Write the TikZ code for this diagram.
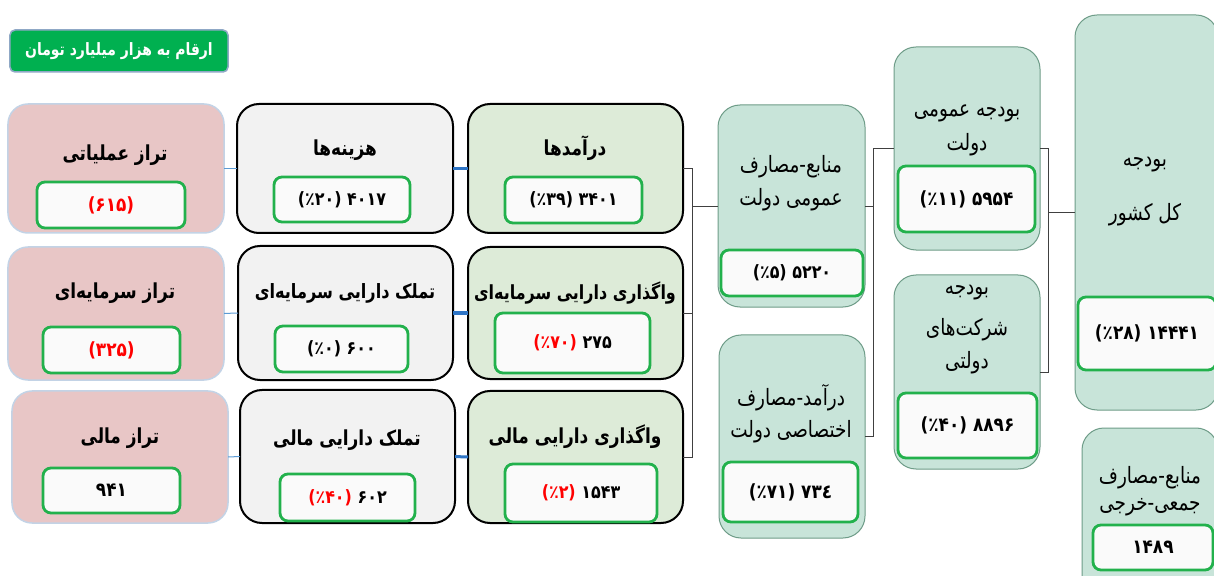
\documentclass[tikz,border=0pt]{standalone}
\usepackage{fontspec}
\usepackage{graphicx}
\TeXXeTstate=1
\newfontfamily\fa[Script=Arabic]{DejaVu Sans}
\definecolor{pinkF}{HTML}{E8C6C6}
\definecolor{pinkD}{HTML}{C3D3E6}
\definecolor{grayF}{HTML}{F2F2F2}
\definecolor{greenF}{HTML}{DDEBD8}
\definecolor{tealF}{HTML}{C8E4D9}
\definecolor{tealD}{HTML}{6E9C88}
\definecolor{valF}{HTML}{FAFAFA}
\definecolor{valD}{HTML}{22B14C}
\definecolor{titF}{HTML}{00B050}
\definecolor{titD}{HTML}{8FA8C6}
\definecolor{lblue}{HTML}{5B9BD5}
\definecolor{dblue}{HTML}{2E75C6}
\definecolor{rd}{HTML}{FF0000}
\tikzset{
  base/.style={inner sep=0pt, outer sep=0pt},
  pinkbox/.style={base, rounded corners=20bp, fill=pinkF, draw=pinkD, line width=1.5bp},
  graybox/.style={base, rounded corners=22bp, fill=grayF, draw=black, line width=2bp},
  greenbox/.style={base, rounded corners=22bp, fill=greenF, draw=black, line width=2bp},
  tealbox/.style={base, rounded corners=22bp, fill=tealF, draw=tealD, line width=1bp},
  valbox/.style={base, rounded corners=8bp, fill=valF, draw=valD, line width=2.8bp,
     font=\fa\bfseries\fontsize{16}{18}\selectfont},
  bigval/.style={font=\fa\bfseries\fontsize{17}{19}\selectfont},
  titbox/.style={base, rounded corners=5bp, fill=titF, draw=titD, line width=1.5bp,
     text=white, font=\fa\bfseries\fontsize{14}{17}\selectfont},
  ttlb/.style={base, font=\fa\bfseries\fontsize{17}{20}\selectfont},
  ttlr/.style={base, font=\fa\fontsize{18.5}{22}\selectfont},
  conn/.style={line width=0.8bp, draw=black!75},
  lconn/.style={line width=1bp, draw=lblue},
  dconn/.style={line width=3bp, draw=dblue},
}
\newcommand{\T}[1]{\scalebox{1}[1.22]{\beginR #1\endR}}
\newcommand{\V}[1]{\scalebox{1}[1.15]{\beginR #1\endR}}
\newcommand{\red}[1]{{\addfontfeatures{Color=FF0000}#1}}
\begin{document}
\begin{tikzpicture}[x=1bp,y=-1bp]
\clip (0,0) rectangle (1214,576);
\fill[white] (0,0) rectangle (1214,576);
% title
\node[titbox, minimum width=218bp, minimum height=42bp] (t) at (119,51) {\T{ارقام به هزار میلیارد تومان}};
% column 1
\node[pinkbox, minimum width=216bp, minimum height=129bp] (p1) at (116,168.5) {};
\node[pinkbox, minimum width=216bp, minimum height=133bp] (p2) at (116,313.5) {};
\node[pinkbox, minimum width=216bp, minimum height=132bp] (p3) at (120,457) {};
% column 2
\node[graybox, minimum width=216bp, minimum height=129bp] (g1) at (345,168.5) {};
\node[graybox, minimum width=215bp, minimum height=134bp] (g2) at (345.5,313) {};
\node[graybox, minimum width=215bp, minimum height=133bp] (g3) at (347.5,456.5) {};
% column 3
\node[greenbox, minimum width=215bp, minimum height=129bp] (c1) at (575.5,168.5) {};
\node[greenbox, minimum width=215bp, minimum height=132bp] (c2) at (575.5,313) {};
\node[greenbox, minimum width=215bp, minimum height=132bp] (c3) at (575.5,457) {};
% column 4
\node[tealbox, minimum width=147bp, minimum height=202bp] (m1) at (791.5,206) {};
\node[tealbox, minimum width=146bp, minimum height=203bp] (m2) at (792,436.5) {};
% column 5
\node[tealbox, minimum width=146bp, minimum height=203bp] (b1) at (967,148.5) {};
\node[tealbox, minimum width=146bp, minimum height=194bp] (b2) at (967,372) {};
% column 6
\node[tealbox, minimum width=143bp, minimum height=395bp] (k) at (1146.5,212.5) {};
\node[tealbox, minimum width=136bp, minimum height=172bp] (s) at (1150,514) {};
% connectors
\draw[lconn] (p1) -- (g1);
\draw[lconn] (p2) -- (g2);
\draw[lconn] (p3) -- (g3);
\draw[dconn] (g1) -- (c1);
\draw[dconn] (g2) -- (c2);
\draw[dconn] (g3) -- (c3);
\coordinate (j1) at (692,206);
\draw[conn] (c1.east) -| (j1) -- (m1.west);
\draw[conn] (c3.east) -| (j1);
\draw[conn] (c2.east) -- (c2.east -| j1);
\coordinate (j2) at (873,148.5);
\draw[conn] (m1.east) -| (j2) -- (b1.west);
\draw[conn] (m2.east) -| (j2);
\coordinate (j3) at (1048,212.5);
\draw[conn] (b1.east) -| (j3) -- (k.west);
\draw[conn] (b2.east) -| (j3);
% titles col1
\node[ttlb] (p1t) at (115,155) {\T{تراز عملیاتی}};
\node[ttlb] (p2t) at (115,293) {\T{تراز سرمایه‌ای}};
\node[ttlb] (p3t) at (120,438) {\T{تراز مالی}};
% titles col2
\node[ttlb] (g1t) at (345,150) {\T{هزینه‌ها}};
\node[ttlb, font=\fa\bfseries\fontsize{16.2}{19}\selectfont] (g2t) at (345,293) {\T{تملک دارایی سرمایه‌ای}};
\node[ttlb] (g3t) at (347,440) {\T{تملک دارایی مالی}};
% titles col3
\node[ttlb] (c1t) at (575,148) {\T{درآمدها}};
\node[ttlb, font=\fa\bfseries\fontsize{16}{19}\selectfont] (c2t) at (575,293) {\T{واگذاری دارایی سرمایه‌ای}};
\node[ttlb] (c3t) at (575,437) {\T{واگذاری دارایی مالی}};
% titles col4
\node[ttlr] (m1a) at (791,167) {\T{منابع-مصارف}};
\node[ttlr] (m1b) at (791,200) {\T{عمومی دولت}};
\node[ttlr] (m2a) at (791,398) {\T{درآمد-مصارف}};
\node[ttlr] (m2b) at (791,432) {\T{اختصاصی دولت}};
% titles col5
\node[ttlr] (b1a) at (967,113) {\T{بودجه عمومی}};
\node[ttlr] (b1b) at (967,145) {\T{دولت}};
\node[ttlr] (b2a) at (967,293) {\T{بودجه}};
\node[ttlr] (b2b) at (967,330) {\T{شرکت‌های}};
\node[ttlr] (b2c) at (967,363) {\T{دولتی}};
% titles col6
\node[ttlr] (ka) at (1145,165) {\T{بودجه}};
\node[ttlr] (kb) at (1145,215) {\T{کل کشور}};
\node[ttlr] (sa) at (1150,478) {\T{منابع-مصارف}};
\node[ttlr] (sb) at (1150,507) {\T{جمعی-خرجی}};
% values
\node[valbox, bigval, minimum width=148bp, minimum height=46bp, text=rd] (pv1) at (111,205) {\V{(۶۱۵)}};
\node[valbox, bigval, minimum width=137bp, minimum height=46bp, text=rd] (pv2) at (111.5,350) {\V{(۳۲۵)}};
\node[valbox, bigval, minimum width=137bp, minimum height=45bp] (pv3) at (111.5,490.5) {\V{۹۴۱}};
\node[valbox, minimum width=136bp, minimum height=45bp] (gv1) at (342,199.5) {\V{۴۰۱۷ (٪۲۰)}};
\node[valbox, minimum width=133bp, minimum height=46bp] (gv2) at (341.5,349) {\V{۶۰۰ (٪۰)}};
\node[valbox, minimum width=135bp, minimum height=47bp] (gv3) at (347.5,497.5) {\V{۶۰۲ \red{(٪۴۰)}}};
\node[valbox, minimum width=137bp, minimum height=46bp] (cv1) at (573.5,200) {\V{۳۴۰۱ (٪۳۹)}};
\node[valbox, minimum width=155bp, minimum height=60bp] (cv2) at (572.5,343) {\V{۲۷۵ \red{(٪۷۰)}}};
\node[valbox, minimum width=152bp, minimum height=58bp] (cv3) at (581,493) {\V{۱۵۴۳ \red{(٪۲)}}};
\node[valbox, minimum width=142bp, minimum height=46bp] (mv1) at (792,273) {\V{۵۲۲۰ (٪۵)}};
\node[valbox, bigval, minimum width=135bp, minimum height=60bp] (mv2) at (790.5,492) {\V{۷۳٤ (٪۷۱)}};
\node[valbox, bigval, minimum width=137bp, minimum height=66bp] (bv1) at (966.5,199) {\V{۵۹۵۴ (٪۱۱)}};
\node[valbox, bigval, minimum width=139bp, minimum height=65bp] (bv2) at (967.5,425.5) {\V{۸۸۹۶ (٪۴۰)}};
\node[valbox, bigval, minimum width=138bp, minimum height=73bp] (kv) at (1147,333.5) {\V{۱۴۴۴۱ (٪۲۸)}};
\node[valbox, bigval, minimum width=120bp, minimum height=45bp] (sv) at (1153,547.5) {\V{۱۴۸۹}};
\end{tikzpicture}
\end{document}
